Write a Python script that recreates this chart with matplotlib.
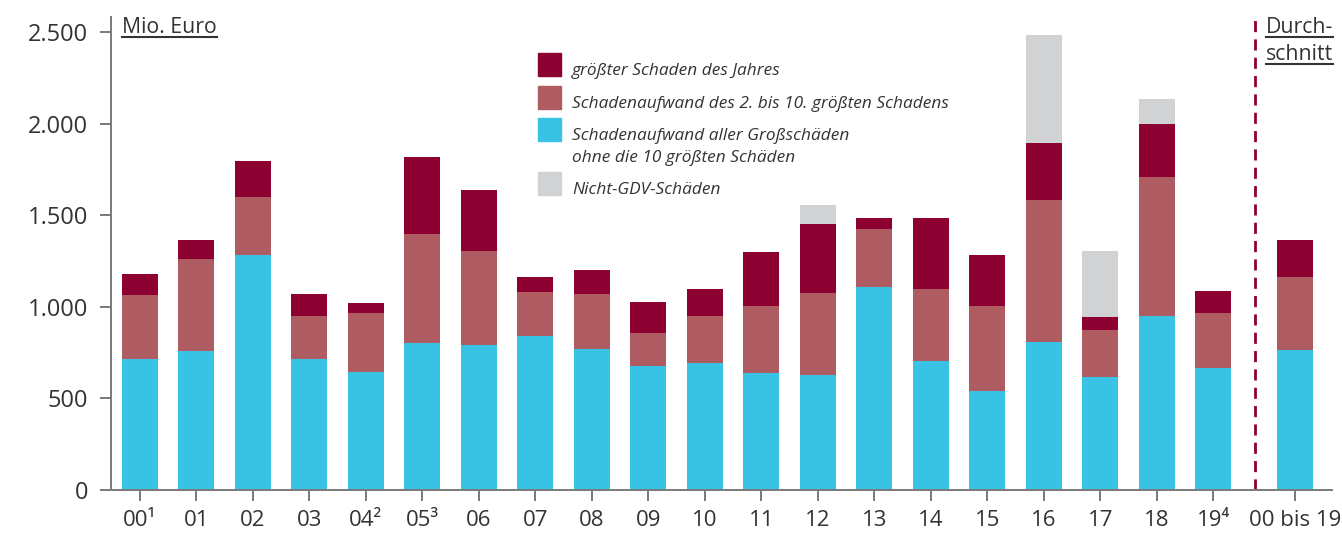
import matplotlib
matplotlib.use("Agg")
import matplotlib.pyplot as plt
from matplotlib.patches import Rectangle
from matplotlib.lines import Line2D

plt.rcParams['font.family'] = ['Open Sans', 'DejaVu Sans']

# Data (Mio. Euro)
labels = ["00¹", "01", "02", "03", "04²", "05³", "06", "07", "08", "09",
          "10", "11", "12", "13", "14", "15", "16", "17", "18", "19⁴", "00 bis 19"]
rest = [715, 759, 1283, 715, 644, 802, 791, 841, 770, 677,
        693, 639, 628, 1108, 704, 540, 808, 617, 950, 666, 764]
top2_10 = [349, 502, 316, 235, 322, 595, 514, 240, 300, 180,
           257, 365, 447, 317, 393, 464, 775, 256, 759, 300, 399]
largest = [115, 104, 197, 120, 55, 421, 333, 82, 131, 169,
           147, 295, 377, 60, 388, 279, 311, 71, 289, 120, 202]
non_gdv = [0, 0, 0, 0, 0, 0, 0, 0, 0, 0,
           0, 0, 104, 0, 0, 0, 590, 361, 136, 0, 0]

legend_labels = ["größter Schaden des Jahres",
                 "Schadenaufwand des 2. bis 10. größten Schadens",
                 "Schadenaufwand aller Großschäden\nohne die 10 größten Schäden",
                 "Nicht-GDV-Schäden"]

c_dark = "#8c0032"
c_rose = "#ae5c62"
c_cyan = "#38c2e4"
c_gray = "#d1d2d4"
txt = "#333333"
axc = "#7a7a7a"

W, H = 1342, 533
fig = plt.figure(figsize=(W / 100, H / 100), dpi=100)
ax = fig.add_axes([111 / W, 1 - 490 / H, (1332 - 111) / W, (490 - 17) / H])

x = list(range(20)) + [20.44]
width = 0.64

b1 = [r for r in rest]
b2 = [r + t for r, t in zip(rest, top2_10)]
b3 = [a + l for a, l in zip(b2, largest)]
ax.bar(x, rest, width, color=c_cyan)
ax.bar(x, top2_10, width, bottom=b1, color=c_rose)
ax.bar(x, largest, width, bottom=b2, color=c_dark)
ax.bar(x, non_gdv, width, bottom=b3, color=c_gray)

ax.axvline(19.73, color=c_dark, lw=2, ls=(0, (4, 2.6)))

ax.set_xlim(-0.51, 21.1)
ax.set_ylim(0, 2582)
yt = [0, 500, 1000, 1500, 2000, 2500]
ax.set_yticks(yt)
ax.set_yticklabels([f"{v:,}".replace(",", ".") for v in yt])
ax.set_xticks(x)
ax.set_xticklabels(labels)

for s in ["top", "right"]:
    ax.spines[s].set_visible(False)
for s in ["left", "bottom"]:
    ax.spines[s].set_color(axc)
    ax.spines[s].set_linewidth(1.4)
ax.tick_params(axis="y", length=8, width=1.4, color=axc, labelsize=17,
               labelcolor=txt, pad=8.5)
ax.tick_params(axis="x", length=8, width=1.4, color=axc, labelsize=16,
               labelcolor=txt, pad=6.5)


def fp(px, py):
    return px / W, 1 - py / H


# legend
sq = 23
rows = [(53, 0, c_dark), (86, 1, c_rose), (118, 2, c_cyan), (172, 3, c_gray)]
for ytop, i, c in rows:
    fig.patches.append(Rectangle(fp(538, ytop + sq), sq / W, sq / H,
                                 transform=fig.transFigure, color=c))
    for k, line in enumerate(legend_labels[i].split("\n")):
        fig.text(*fp(572, ytop + sq - 1 + 22 * k), line, fontsize=12.4,
                 style="italic", color=txt, va="baseline")

# underlined headers
heads = [("Mio. Euro", 122, 33), ("Durch-", 1266, 33), ("schnitt", 1266, 60)]
texts = []
for s, px, py in heads:
    t = fig.text(*fp(px, py), s, fontsize=15.3, color=txt, va="baseline",
                 fontweight="medium")
    texts.append((t, py))
fig.canvas.draw()
r = fig.canvas.get_renderer()
for t, py in texts:
    bb = t.get_window_extent(r)
    yy = 1 - (py + 4) / H
    fig.add_artist(Line2D([bb.x0 / W, bb.x1 / W], [yy, yy],
                          transform=fig.transFigure, color=txt, lw=1.5))

fig.savefig("out.png", dpi=100)
